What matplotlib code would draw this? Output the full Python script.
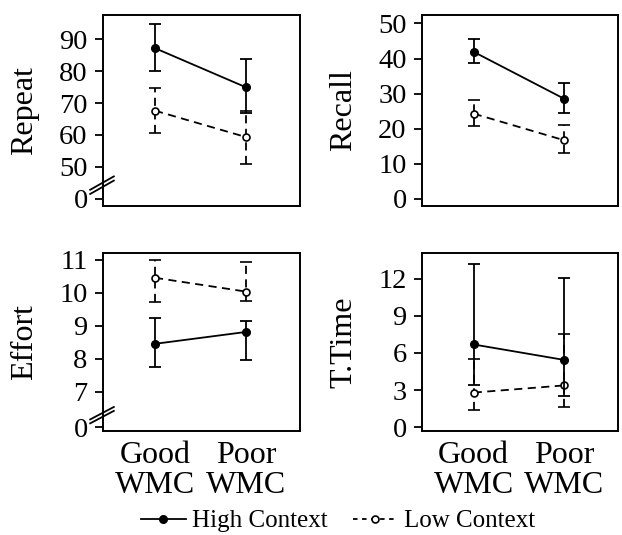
import matplotlib.pyplot as plt
from matplotlib.lines import Line2D

plt.rcParams['font.family'] = ['Liberation Serif', 'DejaVu Serif']

groups = ["Good\nWMC", "Poor\nWMC"]
x_pos = [1, 2]

# mean and error bar ends
repeat_high = [87.2, 74.9]
repeat_high_lo = [80.1, 67.0]
repeat_high_hi = [94.7, 83.7]
repeat_low = [67.6, 59.3]
repeat_low_lo = [60.6, 50.8]
repeat_low_hi = [74.8, 67.6]

recall_high = [41.9, 28.5]
recall_high_lo = [38.6, 24.6]
recall_high_hi = [45.5, 32.9]
recall_low = [24.3, 16.7]
recall_low_lo = [20.9, 13.0]
recall_low_hi = [28.1, 21.0]

effort_high = [8.45, 8.81]
effort_high_lo = [7.74, 7.95]
effort_high_hi = [9.22, 9.15]
effort_low = [10.45, 10.03]
effort_low_lo = [9.72, 9.75]
effort_low_hi = [11.0, 10.93]

ttime_high = [6.68, 5.43]
ttime_high_lo = [3.4, 2.53]
ttime_high_hi = [13.15, 12.05]
ttime_low = [2.8, 3.38]
ttime_low_lo = [1.43, 1.65]
ttime_low_hi = [5.5, 7.5]

repeat_ticks = ["0", "50", "60", "70", "80", "90"]
recall_ticks = ["0", "10", "20", "30", "40", "50"]
effort_ticks = ["0", "7", "8", "9", "10", "11"]
ttime_ticks = ["0", "3", "6", "9", "12"]

fig = plt.figure(figsize=(6.22, 5.35), dpi=100)

W, H = 622, 535


def add_ax(left, top, right, bottom):
    return fig.add_axes([left / W, 1 - bottom / H, (right - left) / W, (bottom - top) / H])


panels = [
    # axes box (px), label, data, tick positions, tick labels, ylim, break y (axes frac), show x labels
    ((103, 15, 300, 206), "Repeat",
     (repeat_high, repeat_high_lo, repeat_high_hi, repeat_low, repeat_low_lo, repeat_low_hi),
     [40, 50, 60, 70, 80, 90], repeat_ticks, (37.7, 97.6), 0.12, False),
    ((422, 15, 618, 206), "Recall",
     (recall_high, recall_high_lo, recall_high_hi, recall_low, recall_low_lo, recall_low_hi),
     [0, 10, 20, 30, 40, 50], recall_ticks, (-2.0, 52.4), None, False),
    ((103, 253, 300, 431), "Effort",
     (effort_high, effort_high_lo, effort_high_hi, effort_low, effort_low_lo, effort_low_hi),
     [5.93, 7, 8, 9, 10, 11], effort_ticks, (5.81, 11.2), 0.10, True),
    ((422, 253, 618, 431), "T.Time",
     (ttime_high, ttime_high_lo, ttime_high_hi, ttime_low, ttime_low_lo, ttime_low_hi),
     [0, 3, 6, 9, 12], ttime_ticks, (-0.3, 14.06), None, True),
]

lw = 1.3
dash = (0, (4.5, 3))
for box, label, data, tpos, tlab, ylim, brk, show_x in panels:
    ax = add_ax(*box)
    hi_m, hi_lo, hi_hi, lo_m, lo_lo, lo_hi = data

    err_hi = [[m - a for m, a in zip(hi_m, hi_lo)], [b - m for m, b in zip(hi_m, hi_hi)]]
    err_lo = [[m - a for m, a in zip(lo_m, lo_lo)], [b - m for m, b in zip(lo_m, lo_hi)]]

    ax.errorbar(x_pos, lo_m, yerr=err_lo, color="black", lw=lw, ls=dash,
                marker="o", ms=5, mfc="white", mec="black", mew=1.2,
                capsize=4.5, capthick=lw, elinewidth=lw, zorder=3)
    ax.errorbar(x_pos, hi_m, yerr=err_hi, color="black", lw=lw, ls="-",
                marker="o", ms=5.5, mfc="black", mec="black",
                capsize=4.5, capthick=lw, elinewidth=lw, zorder=4)
    # dashed vertical bars for the low context series
    for coll in ax.containers[0].lines[2]:
        coll.set_linestyle(dash)

    ax.set_xlim(0.43, 2.59)
    ax.set_ylim(*ylim)
    ax.set_yticks(tpos)
    ax.set_yticklabels(tlab)
    ax.tick_params(axis="y", labelsize=20.5, length=6, width=1.3, pad=5, direction="out")
    ax.set_xticks(x_pos)
    if show_x:
        ax.set_xticklabels(groups, fontsize=23, linespacing=1.05)
        ax.tick_params(axis="x", length=0, pad=7)
    else:
        ax.set_xticklabels([])
        ax.tick_params(axis="x", length=0)
    for sp in ax.spines.values():
        sp.set_linewidth(1.4)
    ax.set_ylabel(label, fontsize=23)
    ax.yaxis.set_label_coords(-0.325, 0.5)

    if brk is not None:
        for off in (0.0, -0.022):
            ax.plot([-0.065, 0.055], [brk - 0.035 + off, brk + 0.035 + off],
                    transform=ax.transAxes, color="black", lw=1.3, clip_on=False)

handles = [
    Line2D([], [], color="black", lw=lw, marker="o", ms=5.5, mfc="black"),
    Line2D([], [], color="black", lw=lw, ls=(0, (2.5, 2.5)), marker="o", ms=5,
           mfc="white", mew=1.2),
]
fig.legend(handles, ["High Context", "Low Context"], loc="center",
           bbox_to_anchor=(338 / W, 1 - 521 / H), ncol=2, frameon=False,
           fontsize=18, handlelength=1.8, handletextpad=0.25, columnspacing=1.0)

fig.savefig("out.png", dpi=100)
